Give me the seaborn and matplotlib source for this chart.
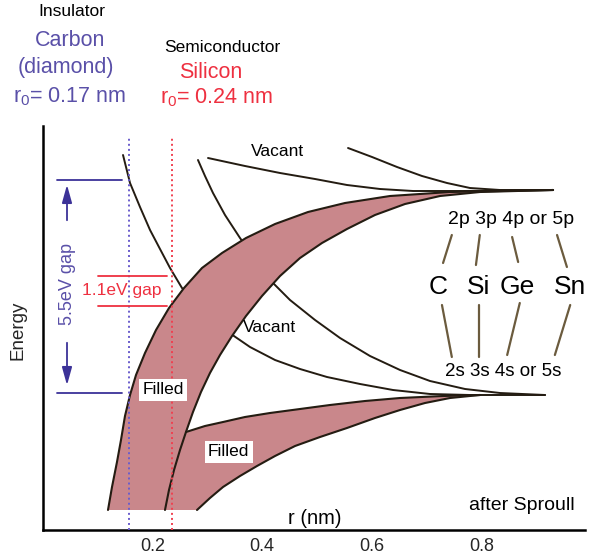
import numpy as np
import matplotlib
matplotlib.use("Agg")
import matplotlib.pyplot as plt
import seaborn as sns

# ---------------- data (r in nm, E in arbitrary energy units) ----------------
# upper (hybrid) band: upper-left edge and lower-right edge
u1_r = [0.1186, 0.1259, 0.1350, 0.1423, 0.1496, 0.1588, 0.1697, 0.1861, 0.2062, 0.2299,
        0.2573, 0.2901, 0.3266, 0.3704, 0.4234, 0.4836, 0.5511, 0.6332, 0.7427, 0.9307]
u1_E = [20, 43, 68, 90, 114, 135, 155, 177, 200, 222, 242, 262, 277, 292, 306, 318, 327, 334, 338, 340]
u2_r = [0.2226, 0.2299, 0.2391, 0.2500, 0.2609, 0.2737, 0.2883, 0.3047, 0.3230, 0.3449, 0.3704,
        0.3996, 0.4325, 0.4690, 0.5091, 0.5547, 0.6058, 0.6606, 0.7245, 0.7974, 0.9307]
u2_E = [20, 40, 60, 80, 98, 118, 138, 157, 175, 194, 214, 234, 254, 272, 287, 301, 315, 326, 334, 338, 340]
# lower (filled) band: upper edge and lower edge
lu_r = [0.2609, 0.2956, 0.3285, 0.3686, 0.4142, 0.4690, 0.5237, 0.5876, 0.6515, 0.7299, 0.7974]
lu_E = [98, 104, 108, 113, 117, 121, 125, 129, 132, 134, 135]
ll_r = [0.2810, 0.3047, 0.3285, 0.3595, 0.3905, 0.4234, 0.4599, 0.5055, 0.5547, 0.6058, 0.6515,
        0.6971, 0.7427, 0.7974]
ll_E = [20, 32, 43, 54, 64, 74, 84, 93, 102, 112, 120, 127, 132, 135]
# vacant-state curves
c1_r = [0.1460, 0.1588, 0.1770, 0.1953, 0.2135, 0.2318, 0.2536, 0.3431, 0.3777, 0.4234, 0.4690,
        0.5182, 0.5785, 0.6387, 0.7062, 0.7792, 0.9161]
c1_E = [375, 347, 323, 300, 281, 262, 242, 196, 183, 170, 161, 153, 146, 140, 136, 135, 135]
c2_r = [0.2828, 0.2956, 0.3102, 0.3321, 0.3595, 0.4161, 0.4507, 0.4964, 0.5420, 0.5967, 0.6515,
        0.7062, 0.7701, 0.8339, 0.9161]
c2_E = [370, 354, 337, 315, 292, 249, 230, 210, 192, 174, 160, 149, 141, 137, 135]
c4_r = [0.3011, 0.3686, 0.4325, 0.4964, 0.5547, 0.6150, 0.6752, 0.7664, 0.9307]
c4_E = [372, 364, 357, 351, 345, 341, 339, 339, 340]
c5_r = [0.5566, 0.6004, 0.6460, 0.6916, 0.7372, 0.7792, 0.8339, 0.9307]
c5_E = [382, 373, 363, 354, 347, 342, 340, 340]

# atomic radii markers
r0_carbon = 0.157
r0_silicon = 0.235
dotted_top = 393

# gaps
gap55_E = [137, 350]
gap11_E = [224, 254]

# element labels and orbital connectors
elements = ["C", "Si", "Ge", "Sn"]
elem_r = [0.721, 0.794, 0.865, 0.962]
p_conn_r0 = [0.746, 0.797, 0.856, 0.938]
p_conn_r1 = [0.730, 0.790, 0.867, 0.956]
p_conn_E0 = [295, 295, 293, 295]
p_conn_E1 = [267, 265, 268, 263]
s_conn_r0 = [0.728, 0.796, 0.870, 0.962]
s_conn_r1 = [0.746, 0.796, 0.847, 0.934]
s_conn_E0 = [225, 225, 227, 225]
s_conn_E1 = [173, 173, 175, 175]

xticks = [0.2, 0.4, 0.6, 0.8]
xtick_labels = ["0.2", "0.4", "0.6", "0.8"]

# ---------------- styling ----------------
sns.set_theme(style="white")
plt.rcParams["font.family"] = ["Liberation Sans", "DejaVu Sans"]

W, H = 591, 559
fig = plt.figure(figsize=(W / 100, H / 100), dpi=100)
ax = fig.add_axes([43 / W, (H - 530) / H, (585 - 43) / W, (530 - 126) / H])
ax.set_xlim(0, 0.989)
ax.set_ylim(0, 404)

CURVE = "#241c12"
PINK = "#c9878b"
BLUE = "#5a50a8"
NAVY = "#3c3298"
RED = "#ee3040"
CONN = "#6b5b3e"

# background vacant curves (partly hidden by bands)
for xs, ys in [(c1_r, c1_E), (c2_r, c2_E), (c4_r, c4_E), (c5_r, c5_E)]:
    sns.lineplot(x=xs, y=ys, sort=False, estimator=None, ax=ax, color=CURVE, lw=1.4, zorder=1)

# bands
up_x = list(u1_r) + list(u2_r[::-1])
up_y = list(u1_E) + list(u2_E[::-1])
ax.fill(up_x, up_y, color=PINK, lw=0, zorder=2)
u2r = np.array(u2_r); u2E = np.array(u2_E)
m = u2E <= lu_E[0]
lo_x = list(u2r[m]) + list(lu_r[1:]) + list(ll_r[::-1])
lo_y = list(u2E[m]) + list(lu_E[1:]) + list(ll_E[::-1])
ax.fill(lo_x, lo_y, color=PINK, lw=0, zorder=2)

for xs, ys in [(u1_r, u1_E), (u2_r, u2_E), (lu_r, lu_E), (ll_r, ll_E)]:
    sns.lineplot(x=xs, y=ys, sort=False, estimator=None, ax=ax, color=CURVE, lw=1.5, zorder=3)

# dotted radius lines
ax.plot([r0_carbon, r0_carbon], [0, dotted_top], color="#6a5ccc", lw=1.4, ls=(0, (1, 1.6)), zorder=4)
ax.plot([r0_silicon, r0_silicon], [0, dotted_top], color="#f04050", lw=1.4, ls=(0, (1, 1.6)), zorder=4)

# 5.5 eV gap
for e in gap55_E:
    ax.plot([0.0255, 0.144], [e, e], color=NAVY, lw=1.3, zorder=4)
ax.annotate("", xy=(0.0438, gap55_E[1] - 2), xytext=(0.0438, 307),
            arrowprops=dict(arrowstyle="-|>,head_length=0.9,head_width=0.25", color=NAVY, lw=1.3))
ax.annotate("", xy=(0.0438, gap55_E[0] + 5), xytext=(0.0438, 190),
            arrowprops=dict(arrowstyle="-|>,head_length=0.9,head_width=0.25", color=NAVY, lw=1.3))
ax.text(0.0438, 246, "5.5eV gap", rotation=90, ha="center", va="center", color=BLUE, fontsize=13)

# 1.1 eV gap
for e in gap11_E:
    ax.plot([0.1004, 0.2263], [e, e], color=RED, lw=1.3, zorder=4)
ax.text(0.144, 239, "1.1eV gap", ha="center", va="center", color=RED, fontsize=12.5, zorder=5)

# band labels
box = dict(boxstyle="square,pad=0.18", fc="white", ec="none")
ax.text(0.219, 140, "Filled", ha="center", va="center", fontsize=12.5, color="black", bbox=box, zorder=6)
ax.text(0.339, 78, "Filled", ha="center", va="center", fontsize=12.5, color="black", bbox=box, zorder=6)
ax.text(0.427, 378, "Vacant", ha="center", va="center", fontsize=12.5, color="black", zorder=6)
ax.text(0.414, 203, "Vacant", ha="center", va="center", fontsize=12.5, color="black", zorder=6)

# element labels
ax.text(0.854, 310, "2p 3p 4p or 5p", ha="center", va="center", fontsize=14, color="black")
ax.text(0.839, 158, "2s 3s 4s or 5s", ha="center", va="center", fontsize=13.5, color="black")
for name, xr in zip(elements, elem_r):
    ax.text(xr, 243, name, ha="center", va="center", fontsize=19, color="black", clip_on=False)
for a, b, c, d in zip(p_conn_r0, p_conn_r1, p_conn_E0, p_conn_E1):
    ax.plot([a, b], [c, d], color=CONN, lw=1.6, clip_on=False)
for a, b, c, d in zip(s_conn_r0, s_conn_r1, s_conn_E0, s_conn_E1):
    ax.plot([a, b], [c, d], color=CONN, lw=1.6, clip_on=False)

ax.text(0.496, 12, "r (nm)", ha="center", va="center", fontsize=14.5, color="black")
ax.text(0.874, 25, "after Sproull", ha="center", va="center", fontsize=14, color="black")

# axes
ax.set_xticks(xticks)
ax.set_xticklabels(xtick_labels)
ax.set_yticks([])
ax.tick_params(axis="x", direction="in", length=4, width=1.5, color="#5a4a30", labelsize=13, pad=6)
for s in ["top", "right"]:
    ax.spines[s].set_visible(False)
for s in ["left", "bottom"]:
    ax.spines[s].set_color("black")
    ax.spines[s].set_linewidth(1.8)
ax.set_facecolor("white")

fig.text(18 / W, 1 - 330 / H, "Energy", rotation=90, ha="center", va="center", fontsize=13.5)

def ftxt(px, py, s, **kw):
    fig.text(px / W, 1 - py / H, s, ha="center", va="center", **kw)

ftxt(72, 12, "Insulator", fontsize=12.5, color="black")
ftxt(70, 41, "Carbon", fontsize=15.5, color=BLUE)
ftxt(66, 68, "(diamond)", fontsize=15.5, color=BLUE)
ftxt(70, 97, r"$\mathregular{r_0}$= 0.17 nm", fontsize=15.5, color=BLUE)
ftxt(222, 47, "Semiconductor", fontsize=12.5, color="black")
ftxt(211, 73, "Silicon", fontsize=15.5, color=RED)
ftxt(217, 98, r"$\mathregular{r_0}$= 0.24 nm", fontsize=15.5, color=RED)

fig.savefig("out.png", dpi=100, facecolor="white")
